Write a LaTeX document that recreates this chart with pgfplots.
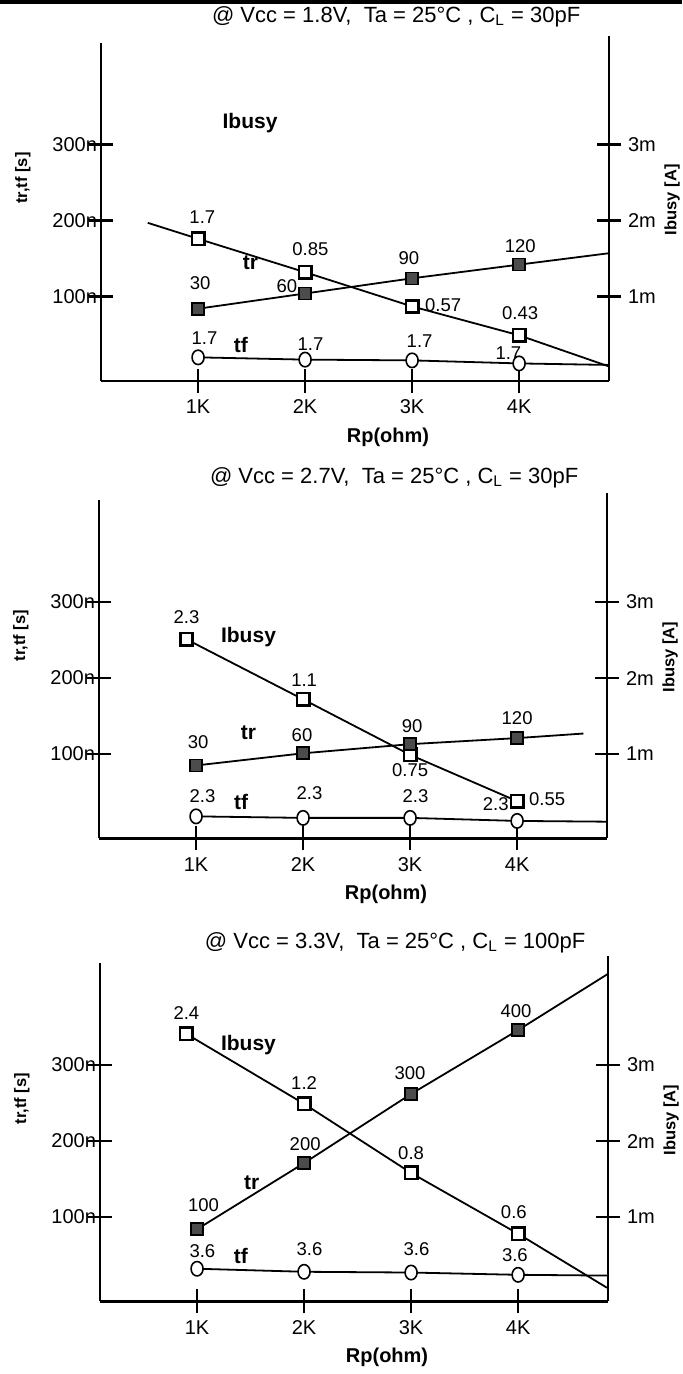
\documentclass[border=0pt]{standalone}
\usepackage{fontspec}
\setmainfont{Liberation Sans}
\usepackage{pgfplots}
\usetikzlibrary{patterns}
\pgfplotsset{compat=1.18}
\newcommand{\lab}[3]{\node[font=\fontsize{9.25}{11}\selectfont,inner sep=0pt] at (axis cs:#1,#2) {#3};}
\newcommand{\blab}[3]{\node[font=\bfseries\fontsize{10.5}{12}\selectfont,inner sep=0pt] at (axis cs:#1,#2) {#3};}
\pgfplotsset{
  common/.style={scale only axis, width=254pt, xmin=0.093, xmax=4.84, ymin=-11,
    clip=false,
    tick style={line width=1.2pt, black}, major tick length=12pt,
    tick label style={font=\fontsize{10}{12}\selectfont},
    ytick={100,200,300}},
  myA/.style={common, height=169.1pt, ymax=434,
    axis x line=bottom, axis y line=left, tick align=center,
    axis line style={-, line width=1.3pt},
    xtick={1,2,3,4}, xticklabels={1K,2K,3K,4K},
    yticklabels={100n,200n,300n},
    yticklabel style={xshift=7.5pt},
    xlabel={Rp(ohm)}, xlabel style={at={(axis description cs:0.565,0)}, anchor=center, yshift=-28pt, font=\bfseries\fontsize{10}{12}\selectfont},
    ylabel={tr,tf [s]}, ylabel style={at={(axis description cs:-0.154,0.6)}, anchor=center, font=\bfseries\fontsize{8.25}{10}\selectfont}},
  myB/.style={common, height=172.5pt, ymax=443,
    axis x line=none, axis y line=right, tick align=center,
    axis line style={-, line width=1.3pt},
    yticklabels={1m,2m,3m},
    ylabel={Ibusy [A]}, ylabel style={at={(axis description cs:1.124,0.525)}, anchor=center, font=\bfseries\fontsize{8.25}{10}\selectfont}},
  ib/.style={black, line width=0.9pt, mark=square*, mark size=3.1pt, mark options={fill=white, line width=1.3pt}},
  trs/.style={black, line width=0.9pt, mark=square*, mark size=3pt, mark options={fill=black!70, draw=black, line width=0.8pt, postaction={pattern=north east lines, pattern color=black!25}}},
  tfs/.style={black, line width=0.9pt, mark=*, mark size=3pt, mark options={fill=white, line width=0.8pt, yscale=1.2}},
}
\begin{document}
\begin{tikzpicture}
\useasboundingbox (0,0) rectangle (341pt,-687pt);
\fill[black] (0,0) rectangle (341pt,-1.8pt);
% ---------------- Panel 1
\begin{axis}[myA, at={(50.5pt,-190.45pt)}, anchor=south west]
\addplot[tfs, mark indices={1,2,3,4}] coordinates {(1,20) (2,17) (3,16) (4,12) (4.84,10)};
\addplot[trs, mark indices={1,2,3,4}] coordinates {(1,84) (2,104) (3,124) (4,142) (4.84,157)};
\addplot[ib, mark indices={2,3,4,5}] coordinates {(0.53,197) (1,176) (2,132) (3,87) (4,49) (4.84,8)};
\node[font=\fontsize{11}{13}\selectfont] at (axis description cs:0.581,1.076) {@ Vcc = 1.8V,\ \ Ta = 25°C , C\textsubscript{L} = 30pF};
\blab{1.486}{328}{Ibusy}
\blab{1.49}{145}{tr}
\blab{1.40}{36}{tf}
\lab{1.04}{204}{1.7}
\lab{2.05}{163}{0.85}
\lab{3.29}{89}{0.57}
\lab{4.01}{78}{0.43}
\lab{1.02}{117}{30}
\lab{1.83}{114}{60}
\lab{2.97}{150}{90}
\lab{4.01}{166}{120}
\lab{1.06}{45}{1.7}
\lab{2.05}{38}{1.7}
\lab{3.07}{41}{1.7}
\lab{3.90}{26}{1.7}
\end{axis}
\begin{axis}[myB, at={(50.5pt,-190.45pt)}, anchor=south west]
\end{axis}
% ---------------- Panel 2
\begin{axis}[myA, at={(49.5pt,-419.2pt)}, anchor=south west]
\addplot[tfs, mark indices={1,2,3,4}] coordinates {(1,18) (2,16) (3,16) (4,12) (4.84,11)};
\addplot[ib] coordinates {(0.91,251) (2,172) (3,99) (4,38)};
\addplot[trs, mark indices={1,2,3,4}] coordinates {(1,85) (2,101) (3,113) (4,121) (4.62,127)};
\node[font=\fontsize{11}{13}\selectfont] at (axis description cs:0.581,1.066) {@ Vcc = 2.7V,\ \ Ta = 25°C , C\textsubscript{L} = 30pF};
\blab{1.49}{254}{Ibusy}
\blab{1.49}{128}{tr}
\blab{1.42}{37}{tf}
\lab{0.91}{280}{2.3}
\lab{2.01}{197}{1.1}
\lab{3.0}{79}{0.75}
\lab{4.28}{41}{0.55}
\lab{1.02}{116}{30}
\lab{1.99}{125}{60}
\lab{3.02}{137}{90}
\lab{4.0}{147}{120}
\lab{1.06}{45}{2.3}
\lab{2.06}{48}{2.3}
\lab{3.05}{45}{2.3}
\lab{3.80}{34}{2.3}
\end{axis}
\begin{axis}[myB, at={(49.5pt,-419.2pt)}, anchor=south west]
\end{axis}
% ---------------- Panel 3
\begin{axis}[myA, at={(50pt,-650.7pt)}, anchor=south west]
\addplot[tfs, mark indices={1,2,3,4}] coordinates {(1,32) (2,28) (3,27) (4,24) (4.84,23)};
\addplot[trs, mark indices={1,2,3,4}] coordinates {(1,84) (2,171) (3,262) (4,346) (4.84,420)};
\addplot[ib, mark indices={1,2,3,4}] coordinates {(0.9,341) (2,249) (3,158) (4,78) (4.83,7)};
\node[font=\fontsize{11}{13}\selectfont] at (axis description cs:0.581,1.06) {@ Vcc = 3.3V,\ \ Ta = 25°C , C\textsubscript{L} = 100pF};
\blab{1.48}{326}{Ibusy}
\blab{1.51}{145}{tr}
\blab{1.41}{49}{tf}
\lab{0.9}{368}{2.4}
\lab{2.0}{276}{1.2}
\lab{3.0}{184}{0.8}
\lab{3.96}{107}{0.6}
\lab{1.06}{116}{100}
\lab{2.01}{196}{200}
\lab{2.99}{289}{300}
\lab{3.98}{371}{400}
\lab{1.05}{55}{3.6}
\lab{2.05}{58}{3.6}
\lab{3.05}{58}{3.6}
\lab{3.97}{50}{3.6}
\end{axis}
\begin{axis}[myB, at={(50pt,-650.7pt)}, anchor=south west]
\end{axis}
\end{tikzpicture}
\end{document}
